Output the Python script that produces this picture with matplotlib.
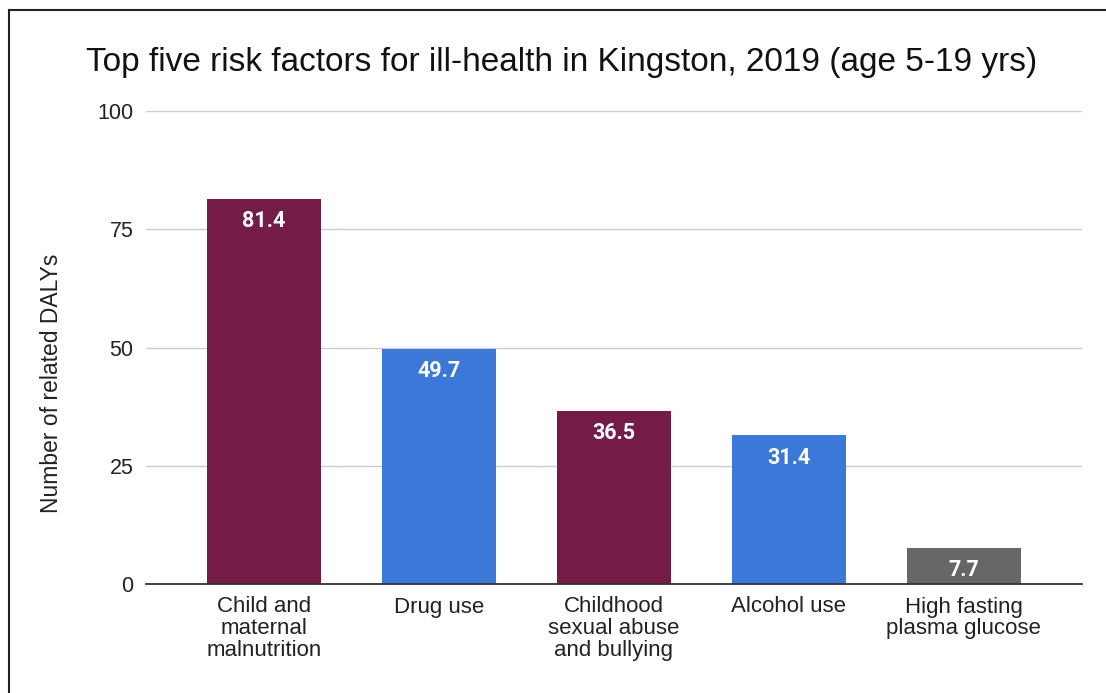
import matplotlib
matplotlib.use("Agg")
import matplotlib.pyplot as plt
from matplotlib.lines import Line2D

# data
categories = [
    "Child and\nmaternal\nmalnutrition",
    "Drug use",
    "Childhood\nsexual abuse\nand bullying",
    "Alcohol use",
    "High fasting\nplasma glucose",
]
values = [81.4, 49.7, 36.5, 31.4, 7.7]
value_labels = ["81.4", "49.7", "36.5", "31.4", "7.7"]
bar_colors = ["#741b47", "#3c78d8", "#741b47", "#3c78d8", "#666666"]
y_ticks = [0, 25, 50, 75, 100]

plt.rcParams["font.family"] = ["Liberation Sans", "DejaVu Sans"]

fig = plt.figure(figsize=(11.06, 6.93), dpi=100)
ax = fig.add_axes([146 / 1106, 1 - 584 / 693, 936 / 1106, 473 / 693])

x = list(range(len(values)))
bars = ax.bar(x, values, width=0.65, color=bar_colors, zorder=3)

# value labels inside the top of each bar
for b, lab in zip(bars, value_labels):
    ax.annotate(lab, (b.get_x() + b.get_width() / 2, b.get_height()),
                xytext=(0, -8), textcoords="offset points",
                ha="center", va="top", color="white", fontsize=15.5,
                fontweight="bold", family=["Roboto", "DejaVu Sans"], zorder=4)

ax.set_xlim(-0.675, 4.675)
ax.set_ylim(0, 100)
ax.set_yticks(y_ticks)
ax.set_yticklabels([str(t) for t in y_ticks], fontsize=15.5, color="#222222")
ax.set_xticks(x)
ax.set_xticklabels(categories, fontsize=16, color="#222222", linespacing=1.06)
ax.tick_params(axis="both", length=0)
ax.tick_params(axis="y", pad=9)
ax.tick_params(axis="x", pad=9)

ax.grid(axis="y", color="#cccccc", linewidth=1, zorder=0)
for s in ["top", "right", "left"]:
    ax.spines[s].set_visible(False)
ax.spines["bottom"].set_color("#333333")
ax.spines["bottom"].set_linewidth(1.3)
ax.spines["bottom"].set_zorder(5)

ax.set_ylabel("Number of related DALYs", fontsize=16.5, color="#222222")
ax.yaxis.set_label_coords(-0.089, 0.424)

fig.text(562 / 1106, 1 - 62 / 693,
         "Top five risk factors for ill-health in Kingston, 2019 (age 5-19 yrs)",
         ha="center", va="center", fontsize=24, color="#111111")

# outer frame (only top and left edge are visible in the crop)
fig.add_artist(Line2D([9 / 1106, 1.0], [1 - 10 / 693, 1 - 10 / 693],
                      transform=fig.transFigure, color="#222222", linewidth=1.5))
fig.add_artist(Line2D([9 / 1106, 9 / 1106], [0.0, 1 - 10 / 693],
                      transform=fig.transFigure, color="#222222", linewidth=1.5))

fig.savefig("out.png", dpi=100)
